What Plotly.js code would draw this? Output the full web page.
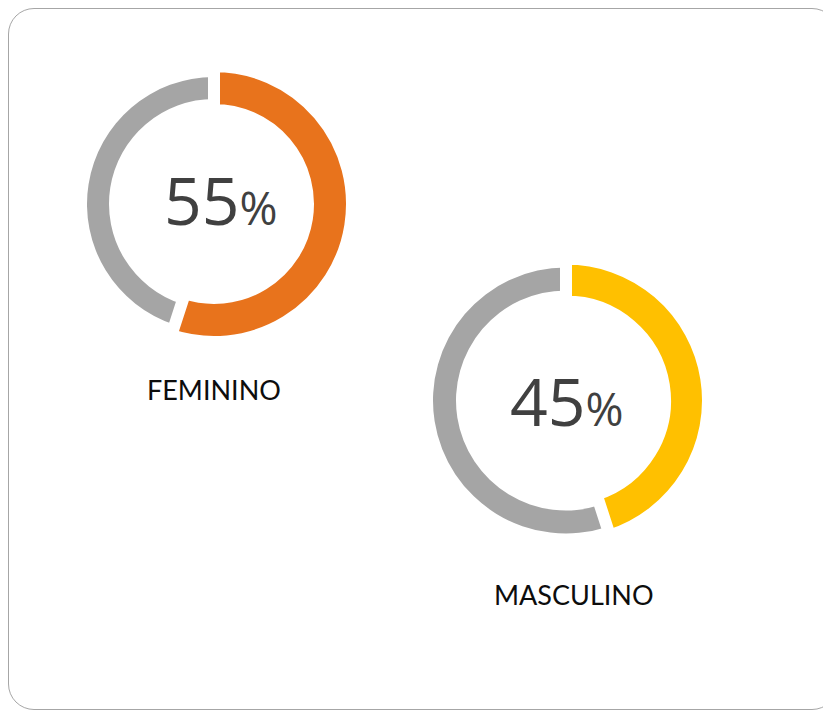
<!DOCTYPE html>
<html>
<head>
<meta charset="utf-8">
<script src="https://cdn.plot.ly/plotly-3.0.1.min.js"></script>
<style>
  html, body { margin: 0; padding: 0; background: #ffffff; }
  #wrap { position: relative; width: 823px; height: 710px; overflow: hidden; }
  #frame { position: absolute; left: 8px; top: 8px; width: 830px; height: 702px;
           border: 1.5px solid #a6a6a6; border-radius: 26px; box-sizing: border-box; }
  #chart { position: absolute; left: 0; top: 0; width: 823px; height: 710px; }
</style>
</head>
<body>
<div id="wrap">
  <div id="frame"></div>
  <div id="chart"></div>
</div>
<script>
// ---- data ----
const categories = ["FEMININO", "MASCULINO"];
const shares = [55, 45];              // percentage shown in each donut
const remainders = [45, 55];          // rest of each donut (grey part)
const accentColors = ["#E8731C", "#FFC000"];
const restColor = "#A5A5A5";

// ---- geometry (pixels) ----
const W = 823, H = 710;
const centers = [[214, 204], [566, 400.5]];
const accentRing = [[132, 100], [136, 105]];  // outer, inner radius of coloured arc
const restRing = [[127, 105], [133, 110]];    // outer, inner radius of grey arc
const gap = 12;                               // white separator stroke
const numberPos = [[221, 199], [567, 400]];
const labelPos = [[214, 389], [574, 594]];

function domainFor(c, r) {
  return {
    x: [(c[0] - r) / W, (c[0] + r) / W],
    y: [(H - c[1] - r) / H, (H - c[1] + r) / H]
  };
}

const traces = [];
// grey rings first (below)
categories.forEach((cat, i) => {
  const [ro, ri] = restRing[i];
  traces.push({
    type: "pie",
    values: [shares[i], remainders[i]],
    labels: [cat, "Outros"],
    sort: false,
    direction: "clockwise",
    rotation: 0,
    hole: ri / ro,
    domain: domainFor(centers[i], ro),
    marker: { colors: ["rgba(0,0,0,0)", restColor], line: { width: 0 } },
    textinfo: "none",
    hoverinfo: "skip",
    showlegend: false
  });
});
// coloured arcs on top, with a white stroke that cuts the gaps
categories.forEach((cat, i) => {
  const [ro, ri] = accentRing[i];
  const R = ro + gap / 2, r = ri - gap / 2;
  traces.push({
    type: "pie",
    values: [shares[i], remainders[i]],
    labels: [cat, "Outros"],
    sort: false,
    direction: "clockwise",
    rotation: 0,
    hole: r / R,
    domain: domainFor(centers[i], R),
    marker: {
      colors: [accentColors[i], "rgba(0,0,0,0)"],
      line: { color: ["#ffffff", "rgba(0,0,0,0)"], width: [gap, 0] }
    },
    textinfo: "none",
    hoverinfo: "skip",
    showlegend: false
  });
});

const annotations = [];
categories.forEach((cat, i) => {
  annotations.push({
    xref: "paper", yref: "paper",
    x: numberPos[i][0] / W, y: 1 - numberPos[i][1] / H,
    xanchor: "center", yanchor: "middle",
    showarrow: false,
    text: shares[i] + '<span style="font-size:46px">%</span>',
    font: { family: "Open Sans, sans-serif", size: 66, color: "#404040" }
  });
  annotations.push({
    xref: "paper", yref: "paper",
    x: labelPos[i][0] / W, y: 1 - labelPos[i][1] / H,
    xanchor: "center", yanchor: "middle",
    showarrow: false,
    text: cat,
    font: { family: "Lato, sans-serif", size: 27, color: "#0d0d0d" }
  });
});

const layout = {
  width: W, height: H,
  margin: { l: 0, r: 0, t: 0, b: 0 },
  paper_bgcolor: "rgba(0,0,0,0)",
  plot_bgcolor: "rgba(0,0,0,0)",
  showlegend: false,
  annotations: annotations
};

Plotly.newPlot("chart", traces, layout, { displayModeBar: false, staticPlot: true });
</script>
</body>
</html>
